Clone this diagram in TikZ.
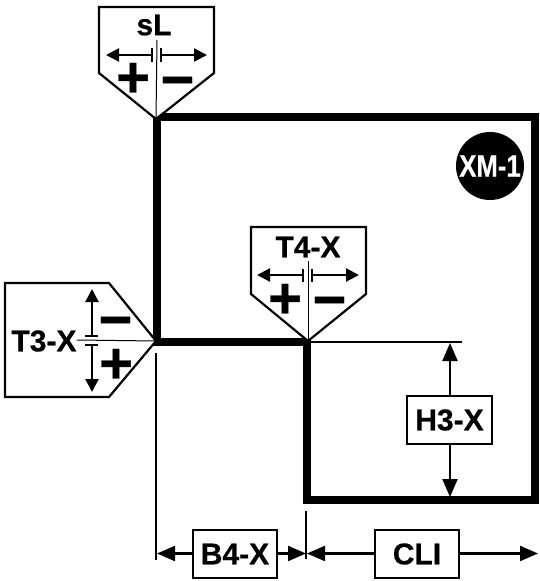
\documentclass[tikz,border=0pt]{standalone}
\usepackage{fontspec}
\usepackage{graphicx}
\setmainfont{Liberation Sans}[BoldFont={* Bold},BoldFeatures={FakeBold=0.6}]
\usetikzlibrary{arrows.meta}
\tikzset{
  frameline/.style={line width=7.5pt,line cap=butt,line join=miter},
  thinline/.style={line width=1.8pt},
  hairline/.style={line width=1pt},
  tag/.style={draw=black,line width=2.2pt,line join=miter},
  dimbox/.style={draw=black,line width=2.2pt,fill=white,inner sep=0pt,minimum height=48pt,font=\fontsize{30}{30}\selectfont\bfseries},
  lab/.style={inner sep=0pt,font=\fontsize{30}{30}\selectfont\bfseries},
  sign/.style={inner sep=0pt,font=\fontsize{58}{58}\selectfont\bfseries},
  dimarrow/.style={line width=2.2pt,-{Triangle[length=18pt,width=15pt]}},
  polarrow/.style={line width=2.2pt,-{Triangle[length=13pt,width=13pt]}},
  plate/.style={line width=2.4pt}
}
\begin{document}
\begin{tikzpicture}[x=1pt,y=-1pt]
\useasboundingbox (0,0) rectangle (539,581);
% frame
\coordinate (ftl) at (157,117);
\coordinate (ftr) at (535,117);
\coordinate (fbr) at (535,500);
\coordinate (fbl) at (307,500);
\coordinate (fin) at (307,342);
\coordinate (fml) at (157,342);
\draw[frameline] (fml) -- (ftl) -- (ftr) -- (fbr) -- (fbl) -- (fin) -- cycle;
\coordinate (hend) at (462,342);
\draw[thinline] (fin) -- (hend);
% XM-1
\node[circle,fill=black,minimum size=68pt,inner sep=0pt] (xm) at (490,166) {};
\node[inner sep=0pt,text=white,font=\fontsize{31}{31}\selectfont\bfseries] (xmt) at (490,166) {\scalebox{.83}[1]{XM-1}};
% sL tag
\coordinate (sa) at (156,119);
\draw[tag,fill=white] (99,7) -- (214,7) -- (214,73) -- (sa) -- (99,73) -- cycle;
\node[lab] (sl) at (154,25) {sL};
\coordinate (sv) at (157,40);
\draw[hairline] (sv) -- (sa);
\coordinate (sp1a) at (152,48); \coordinate (sp1b) at (152,62);
\coordinate (sp2a) at (161,48); \coordinate (sp2b) at (161,62);
\draw[plate] (sp1a) -- (sp1b);
\draw[plate] (sp2a) -- (sp2b);
\coordinate (sl1) at (152,55); \coordinate (sl2) at (106,55);
\coordinate (sr1) at (161,55); \coordinate (sr2) at (207,55);
\draw[polarrow] (sl1) -- (sl2);
\draw[polarrow] (sr1) -- (sr2);
\node[sign] (splus) at (133,80) {+};
\node[sign] (sminus) at (177.5,88) {−};
% T4-X tag
\coordinate (ta) at (308,341);
\draw[tag,fill=white] (251,227) -- (366,227) -- (366,294) -- (ta) -- (251,294) -- cycle;
\node[lab] (t4) at (308,247) {T4-X};
\coordinate (tv) at (308,261);
\draw[hairline] (tv) -- (ta);
\coordinate (tp1a) at (303,269); \coordinate (tp1b) at (303,282);
\coordinate (tp2a) at (312,269); \coordinate (tp2b) at (312,282);
\draw[plate] (tp1a) -- (tp1b);
\draw[plate] (tp2a) -- (tp2b);
\coordinate (tl1) at (303,275); \coordinate (tl2) at (257,275);
\coordinate (tr1) at (312,275); \coordinate (tr2) at (359,275);
\draw[polarrow] (tl1) -- (tl2);
\draw[polarrow] (tr1) -- (tr2);
\node[sign] (tplus) at (285,301) {+};
\node[sign] (tminus) at (329.5,308) {−};
% T3-X tag
\coordinate (la) at (156,341);
\draw[tag,fill=white] (5,283) -- (109,283) -- (la) -- (109,397) -- (5,397) -- cycle;
\node[lab] (t3) at (44,341) {T3-X};
\coordinate (lv) at (77,340);
\draw[hairline] (lv) -- (la);
\coordinate (lp1a) at (85,336); \coordinate (lp1b) at (98,336);
\coordinate (lp2a) at (85,345); \coordinate (lp2b) at (98,345);
\draw[plate] (lp1a) -- (lp1b);
\draw[plate] (lp2a) -- (lp2b);
\coordinate (lu1) at (92,336); \coordinate (lu2) at (92,289);
\coordinate (ld1) at (92,345); \coordinate (ld2) at (92,392);
\draw[polarrow] (lu1) -- (lu2);
\draw[polarrow] (ld1) -- (ld2);
\node[sign] (lminus) at (115.5,328) {−};
\node[sign] (lplus) at (116,366) {+};
% H3-X dimension
\node[dimbox,minimum width=85pt] (h3) at (449.5,420) {H3-X};
\coordinate (htop) at (450,343);
\coordinate (hbot) at (450,497);
\draw[dimarrow] (h3.north -| htop) -- (htop);
\draw[dimarrow] (h3.south -| hbot) -- (hbot);
% extension lines
\coordinate (e1a) at (156,353); \coordinate (e1b) at (156,560);
\coordinate (e2a) at (306,511); \coordinate (e2b) at (306,559);
\draw[thinline] (e1a) -- (e1b);
\draw[thinline] (e2a) -- (e2b);
% B4-X dimension
\node[dimbox,minimum width=84pt] (b4) at (235,554) {B4-X};
\coordinate (bl) at (157,553.5);
\coordinate (br) at (306,553.5);
\draw[dimarrow] (b4.west |- bl) -- (bl);
\draw[dimarrow] (b4.east |- br) -- (br);
% CLI dimension
\node[dimbox,minimum width=84pt] (cli) at (417,554) {CLI};
\coordinate (cl) at (307,553.5);
\coordinate (cr) at (538,553.5);
\draw[dimarrow] (cli.west |- cl) -- (cl);
\draw[dimarrow] (cli.east |- cr) -- (cr);
\end{tikzpicture}
\end{document}
